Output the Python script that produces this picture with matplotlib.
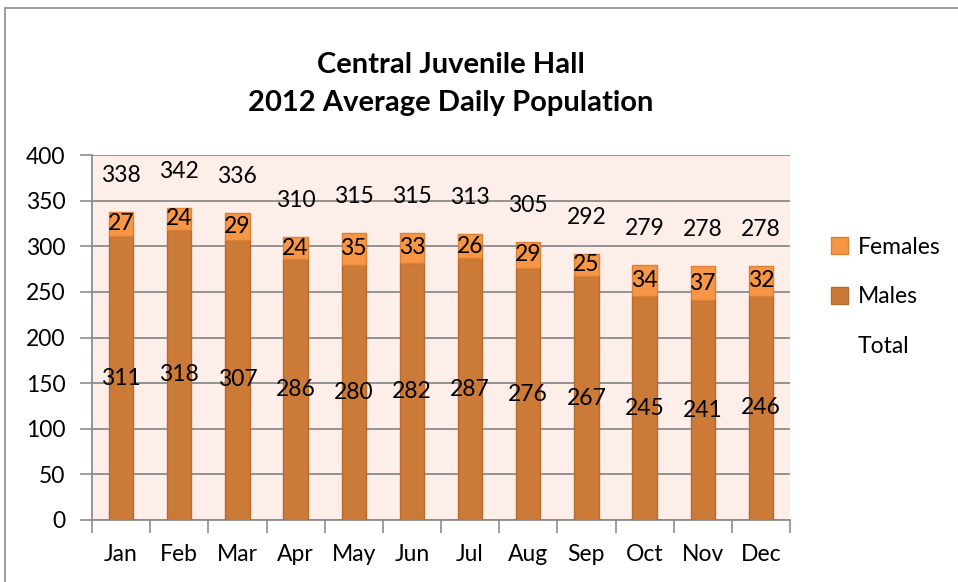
import matplotlib.pyplot as plt
import matplotlib.patches as mpatches
import numpy as np

# Chart data
months = ['Jan', 'Feb', 'Mar', 'Apr', 'May', 'Jun', 'Jul', 'Aug', 'Sep', 'Oct', 'Nov', 'Dec']
males = [311, 318, 307, 286, 280, 282, 287, 276, 267, 245, 241, 246]
females = [27, 24, 29, 24, 35, 33, 26, 29, 25, 34, 37, 32]
totals = [338, 342, 336, 310, 315, 315, 313, 305, 292, 279, 278, 278]

male_color = '#CB7A38'
male_edge = '#B8692C'
female_color = '#F79646'
female_edge = '#D98236'
grid_color = '#8C8C8C'
fs = 16.5

plt.rcParams['font.family'] = ['Lato', 'DejaVu Sans']

fig = plt.figure(figsize=(9.58, 5.82), dpi=100)
# outer chart border
fig.patches.append(mpatches.Rectangle((5 / 958, -0.1), 1.2, 1 - 8 / 582 + 0.1,
                                      transform=fig.transFigure, fill=False,
                                      edgecolor='#8C8C8C', linewidth=1.2))

ax = fig.add_axes([92 / 958, 1 - 520 / 582, (790 - 92) / 958, (520 - 155) / 582])
ax.set_facecolor('#FDEEEA')

x = np.arange(len(months))
width = 0.42
ax.bar(x, males, width, color=male_color, edgecolor=male_edge, linewidth=1, zorder=3)
ax.bar(x, females, width, bottom=males, color=female_color, edgecolor=female_edge,
       linewidth=1, zorder=3)

for i in range(len(months)):
    ax.text(x[i], males[i] / 2, str(males[i]), ha='center', va='center', fontsize=fs, zorder=4)
    ax.text(x[i], males[i] + females[i] / 2, str(females[i]), ha='center', va='center',
            fontsize=fs, zorder=4)
    ax.text(x[i], totals[i] + 40, str(totals[i]), ha='center', va='center', fontsize=fs, zorder=4)

ax.set_xlim(-0.5, len(months) - 0.5)
ax.set_ylim(0, 400)
ax.set_yticks(np.arange(0, 401, 50))
ax.yaxis.grid(True, color=grid_color, linewidth=1.3, zorder=0)
ax.set_axisbelow(True)

ax.set_xticks(x)
ax.set_xticklabels(months)
ax.set_xticks(np.arange(-0.5, len(months), 1), minor=True)
ax.tick_params(axis='x', which='major', length=0, pad=17, labelsize=fs)
ax.tick_params(axis='x', which='minor', length=9, color=grid_color, width=1.2)
ax.tick_params(axis='y', length=9, color=grid_color, width=1.2, labelsize=fs, pad=10)

for side in ['top', 'right']:
    ax.spines[side].set_visible(False)
for side in ['left', 'bottom']:
    ax.spines[side].set_color(grid_color)
    ax.spines[side].set_linewidth(1.3)

fig.text(451 / 958, 1 - 65 / 582, 'Central Juvenile Hall', ha='center', va='center',
         fontsize=21, fontweight='bold')
fig.text(451 / 958, 1 - 103 / 582, '2012 Average Daily Population', ha='center', va='center',
         fontsize=21, fontweight='bold')

handles = [mpatches.Patch(facecolor=female_color, edgecolor=female_edge, label='Females'),
           mpatches.Patch(facecolor=male_color, edgecolor=male_edge, label='Males'),
           mpatches.Patch(facecolor='none', edgecolor='none', label='Total')]
fig.legend(handles=handles, loc='center left', bbox_to_anchor=(810 / 958, 1 - 297 / 582),
           frameon=False, fontsize=fs, handlelength=0.75, handleheight=0.75,
           handletextpad=0.45, labelspacing=1.25)

fig.savefig('out.png', dpi=100)
